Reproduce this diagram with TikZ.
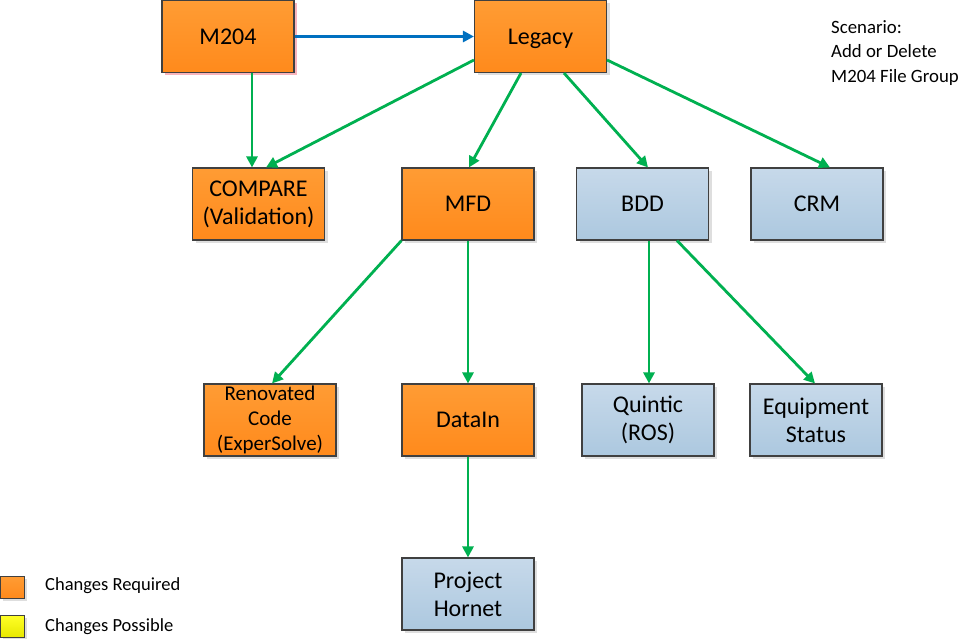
\documentclass[tikz,border=0pt]{standalone}
\usepackage{fontspec}
\setmainfont{Carlito}
\usetikzlibrary{arrows.meta,shadows}
\definecolor{orTop}{RGB}{255,156,52}
\definecolor{orBot}{RGB}{255,138,28}
\definecolor{blTop}{RGB}{199,217,234}
\definecolor{blBot}{RGB}{172,200,223}
\definecolor{yeTop}{RGB}{255,255,40}
\definecolor{yeBot}{RGB}{232,232,0}
\definecolor{edge}{RGB}{64,64,64}
\definecolor{arrG}{RGB}{0,176,80}
\definecolor{arrB}{RGB}{0,112,192}
\definecolor{shGray}{RGB}{222,222,222}
\definecolor{shPink}{RGB}{248,180,188}
\tikzset{
  x=1pt,y=-1pt,
  box/.style={draw=edge,line width=1.1pt,minimum width=132pt,minimum height=72pt,
    inner sep=0pt,align=center,font=\fontsize{24}{28}\selectfont,
    general shadow={shadow xshift=3pt,shadow yshift=-3pt,fill=shGray}},
  orbox/.style={box,top color=orTop,bottom color=orBot},
  blbox/.style={box,top color=blTop,bottom color=blBot},
  conn/.style={draw=arrG,line width=2.8pt,-{Triangle[length=11pt,width=11pt]}},
  bconn/.style={conn,draw=arrB},
  legsq/.style={draw=edge,line width=1pt,minimum width=24pt,minimum height=22pt,inner sep=0pt,
    general shadow={shadow xshift=2.5pt,shadow yshift=-2.5pt,fill=shGray}},
  legtxt/.style={anchor=west,inner sep=0pt,font=\fontsize{18.5}{22}\selectfont},
}
\begin{document}
\begin{tikzpicture}
\useasboundingbox (0,0) rectangle (959,639);
% boxes
\node[orbox,general shadow={shadow xshift=3pt,shadow yshift=-3pt,fill=shPink}] (m204) at (228,36.5) {M204};
\node[orbox] (legacy) at (540.5,36.5) {\raisebox{0pt}[\height][0pt]{Legacy}};
\node[orbox] (compare) at (258.5,204) {COMPARE\\(Validation)};
\node[orbox] (mfd) at (468,204) {MFD};
\node[blbox] (bdd) at (642.5,204) {BDD};
\node[blbox] (crm) at (817,204) {CRM};
\node[orbox,font=\fontsize{21}{25}\selectfont] (ren) at (270,420) {Renovated\\Code\\(ExperSolve)};
\node[orbox] (datain) at (468,420) {DataIn};
\node[blbox] (quintic) at (648,420) {Quintic\\(ROS)};
\node[blbox] (equip) at (816,420) {Equipment\\Status};
\node[blbox] (hornet) at (468,594) {Project\\Hornet};
% scenario text
\node[anchor=north west,inner sep=0pt,align=left,font=\fontsize{18.8}{24.5}\selectfont] (scen) at (831,20) {Scenario:\\Add or Delete\\M204 File Group};
% legend
\node[legsq,top color=orTop,bottom color=orBot] (lego) at (12,587) {};
\node[legsq,top color=yeTop,bottom color=yeBot] (legy) at (12,626) {};
\node[legtxt] (legot) at (45,586) {Changes Required};
\node[legtxt] (legyt) at (45,627) {Changes Possible};
% connectors
\draw[bconn] (m204.east) -- (legacy.west);
\draw[conn] ([xshift=24]m204.south) -- ([xshift=-6.5]compare.north);
\draw[conn] ([yshift=-23.5]legacy.west) -- ([xshift=7.5]compare.north);
\draw[conn] ([xshift=-19.5]legacy.south) -- ([xshift=1]mfd.north);
\draw[conn] ([xshift=23.5]legacy.south) -- ([xshift=5.5]bdd.north);
\draw[conn] ([yshift=-23.5]legacy.east) -- ([xshift=13]crm.north);
\draw[conn] (mfd.south west) -- ([xshift=2]ren.north);
\draw[conn] (mfd.south) -- (datain.north);
\draw[conn] ([xshift=6.5]bdd.south) -- ([xshift=1]quintic.north);
\draw[conn] ([xshift=34.5]bdd.south) -- ([xshift=-1]equip.north);
\draw[conn] (datain.south) -- (hornet.north);
\end{tikzpicture}
\end{document}
